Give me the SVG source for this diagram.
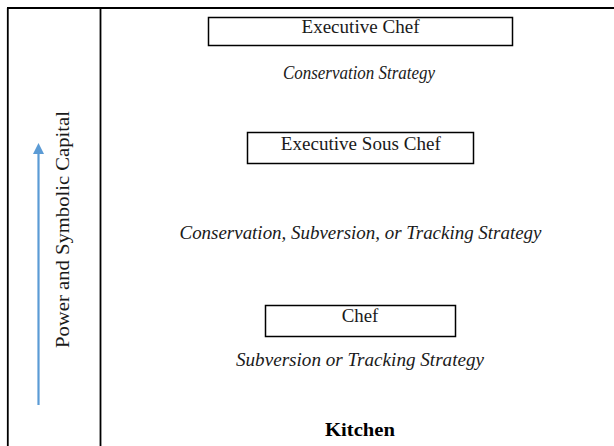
<svg xmlns="http://www.w3.org/2000/svg" width="614" height="446" viewBox="0 0 614 446">
  <style>
    .rule { stroke: #000; stroke-width: 1.8; fill: none; }
    .box { fill: #fff; stroke: #000; stroke-width: 1.5; }
    .lbl { font-family: "Liberation Serif", "Times New Roman", serif; font-size: 18px; fill: #1a1a1a; text-anchor: middle; }
    .it { font-style: italic; }
    .bold { font-weight: bold; fill: #000; }
  </style>
  <defs>
    <marker id="arrowhead" markerWidth="11" markerHeight="11" refX="0" refY="5.5" orient="auto" markerUnits="userSpaceOnUse">
      <path d="M0,0 L11,5.5 L0,11 Z" fill="#5B9BD5"/>
    </marker>
  </defs>
  <rect width="614" height="446" fill="#fff"/>

  <!-- table frame -->
  <g id="frame">
    <line class="rule" x1="7" y1="8" x2="614" y2="8"/>
    <line class="rule" x1="7.8" y1="8" x2="7.8" y2="446"/>
    <line class="rule" x1="100.5" y1="8" x2="100.5" y2="446"/>
  </g>

  <!-- power axis -->
  <g id="connectors">
    <line x1="38.5" y1="405" x2="38.5" y2="154" stroke="#5B9BD5" stroke-width="2.2" marker-end="url(#arrowhead)"/>
  </g>
  <g id="axis-label">
    <text class="lbl" transform="translate(68.5,229.5) rotate(-90)" textLength="237" lengthAdjust="spacingAndGlyphs">Power and Symbolic Capital</text>
  </g>

  <g id="executive-chef">
    <rect class="box" x="208.5" y="17.5" width="304" height="28"/>
    <text class="lbl" x="360.5" y="32.5" textLength="118" lengthAdjust="spacingAndGlyphs">Executive Chef</text>
  </g>
  <g id="strategy-top">
    <text class="lbl it" x="359" y="78.5" font-size="16.5" textLength="152" lengthAdjust="spacingAndGlyphs">Conservation Strategy</text>
  </g>

  <g id="executive-sous-chef">
    <rect class="box" x="247.5" y="132.5" width="226" height="31"/>
    <text class="lbl" x="360.8" y="149.5" textLength="160" lengthAdjust="spacingAndGlyphs">Executive Sous Chef</text>
  </g>
  <g id="strategy-middle">
    <text class="lbl it" x="360.5" y="238.5" textLength="362" lengthAdjust="spacingAndGlyphs">Conservation, Subversion, or Tracking Strategy</text>
  </g>

  <g id="chef">
    <rect class="box" x="265.5" y="305.5" width="190" height="31"/>
    <text class="lbl" x="360" y="321.5" textLength="36.6" lengthAdjust="spacingAndGlyphs">Chef</text>
  </g>
  <g id="strategy-bottom">
    <text class="lbl it" x="360" y="366" textLength="248" lengthAdjust="spacingAndGlyphs">Subversion or Tracking Strategy</text>
  </g>

  <g id="kitchen">
    <text class="lbl bold" x="360" y="436" textLength="70" lengthAdjust="spacingAndGlyphs">Kitchen</text>
  </g>
</svg>
